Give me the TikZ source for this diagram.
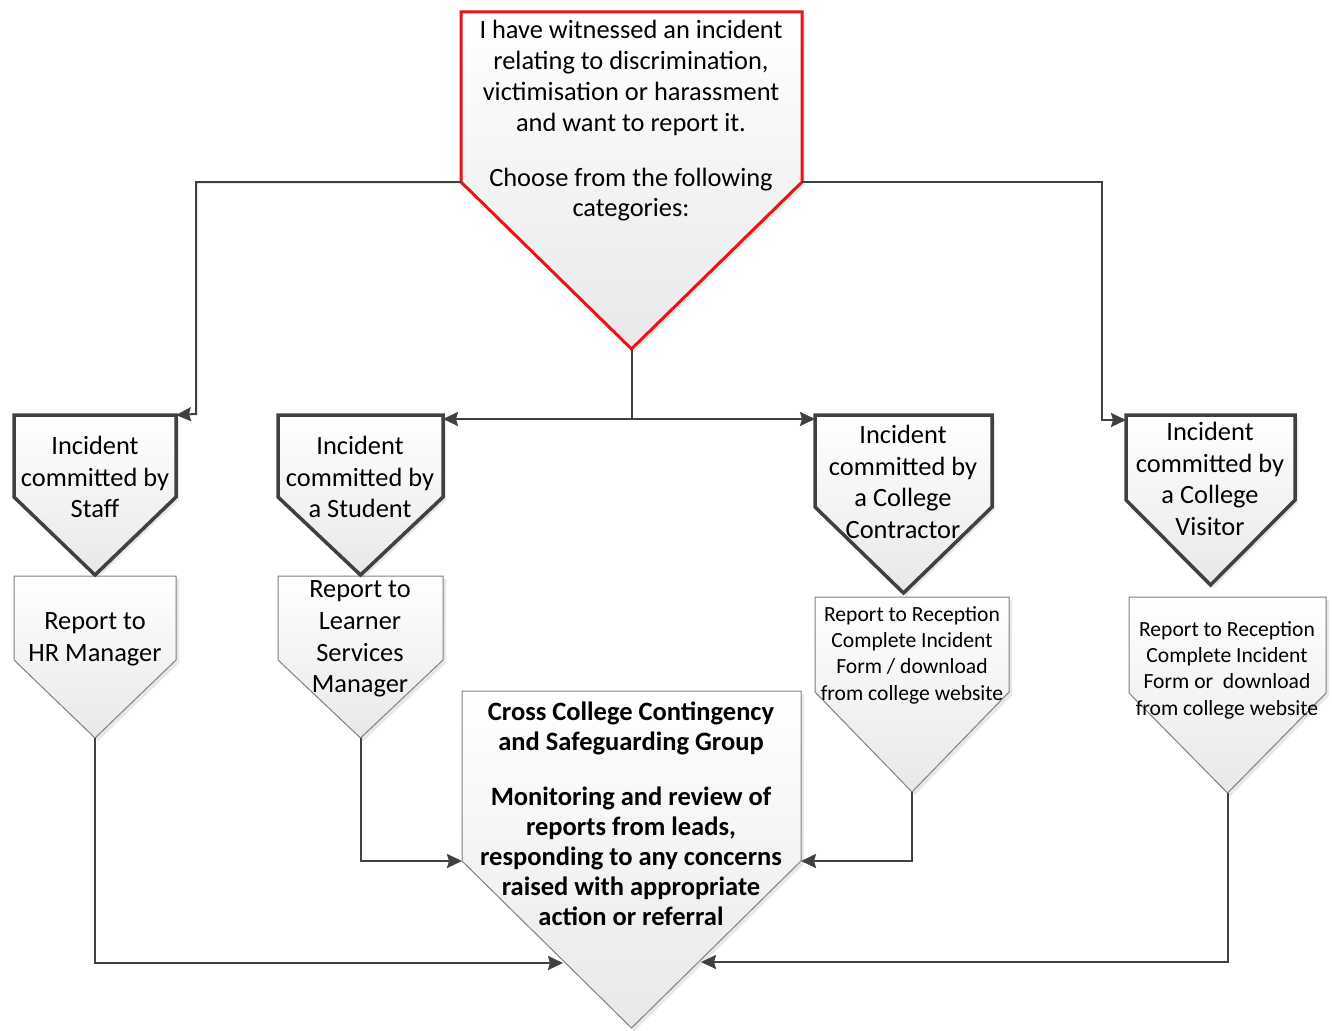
\documentclass[tikz,border=0pt]{standalone}
\usepackage{fontspec}
\setmainfont{Carlito}
\usetikzlibrary{arrows.meta,shadows}
\definecolor{linegray}{HTML}{404040}
\definecolor{redline}{HTML}{E8141B}
\definecolor{thingray}{HTML}{808080}
\tikzset{
 shapefill/.style={top color=white,bottom color=black!9,
   drop shadow={shadow xshift=3pt,shadow yshift=-3pt,opacity=0.18}},
 topshape/.style={shapefill,draw=redline,line width=3pt},
 catshape/.style={shapefill,draw=linegray,line width=3.5pt},
 repshape/.style={shapefill,draw=thingray,line width=1pt},
 conn/.style={draw=linegray,line width=2pt,-{Stealth[length=15pt,width=14pt,inset=2pt]}},
 plainconn/.style={draw=linegray,line width=2pt},
 txt/.style={align=center,inner sep=0pt,text=black},
 bigtxt/.style={txt,font=\fontsize{26.4}{30.8}\selectfont},
 cattxt/.style={txt,font=\fontsize{26.4}{31.7}\selectfont},
 smalltxt/.style={txt,font=\fontsize{21.6}{26.3}\selectfont},
 boldtxt/.style={txt,font=\bfseries\fontsize{26.5}{30.2}\selectfont},
}
% name, style, x left, x right, y top, y shoulder, y apex
\newcommand\pentshape[7]{%
 \path[#2] (#3,#5) coordinate (#1-tl) -- (#4,#5) coordinate (#1-tr)
   -- (#4,#6) coordinate (#1-sr) -- ({(#3+#4)/2},#7) coordinate (#1-apex)
   -- (#3,#6) coordinate (#1-sl) -- cycle;}
\begin{document}
\begin{tikzpicture}[x=1pt,y=-1pt]
\useasboundingbox[fill=white] (0,0) rectangle (1332,1030);
% report shapes (behind)
\pentshape{hr}{repshape}{14}{176}{576}{660}{738}
\pentshape{learner}{repshape}{278}{443}{576}{660}{738}
\pentshape{contrrep}{repshape}{815}{1009}{597}{692}{792}
\pentshape{visitrep}{repshape}{1129}{1326}{597}{693}{793}
\pentshape{central}{repshape}{462}{801}{691}{861}{1028}
% top and category shapes
\pentshape{top}{topshape}{461}{802}{12}{182}{349}
\pentshape{staff}{catshape}{14}{176}{415}{497}{575}
\pentshape{student}{catshape}{278}{443}{415}{497}{575}
\pentshape{contr}{catshape}{815}{992}{415}{507}{593}
\pentshape{visit}{catshape}{1126}{1295}{415}{500}{585}
% texts
\node[bigtxt] (toptext) at (631,121) {I have witnessed an incident\\relating to discrimination,\\victimisation or harassment\\and want to report it.\\[24pt]Choose from the following\\categories:};
\node[cattxt] (stafftext) at (95,477) {Incident\\committed by\\Staff};
\node[cattxt] (studenttext) at (360,477) {Incident\\committed by\\a Student};
\node[cattxt] (contrtext) at (903,482) {Incident\\committed by\\a College\\Contractor};
\node[cattxt] (visittext) at (1210,479) {Incident\\committed by\\a College\\Visitor};
\node[cattxt] (hrtext) at (95,639) {Report to\\HR Manager};
\node[cattxt] (learnertext) at (360,639) {Report to\\Learner\\Services\\Manager};
\node[smalltxt] (contrreptext) at (912,655) {Report to Reception\\Complete Incident\\Form / download\\from college website};
\node[smalltxt] (visitreptext) at (1227,670) {Report to Reception\\Complete Incident\\Form or\ \ download\\from college website};
\node[boldtxt] (centraltext) at (631,814) {Cross College Contingency\\and Safeguarding Group\\[24pt]Monitoring and review of\\reports from leads,\\responding to any concerns\\raised with appropriate\\action or referral};
% connector coordinates
\coordinate (lbendA) at (196,182);
\coordinate (lbendB) at (196,414);
\coordinate (rbendA) at (1102,182);
\coordinate (rbendB) at (1102,420);
\coordinate (mid) at ([yshift=-70pt]top-apex);
\coordinate (cinL) at (563,963);
\coordinate (cinR) at (701,962);
% connectors
\draw[conn] (top-sl) -- (lbendA) -- (lbendB) -- (staff-tr);
\draw[conn] (top-sr) -- (rbendA) -- (rbendB) -- (rbendB -| visit-tl);
\draw[plainconn] (top-apex) -- (mid);
\draw[conn] (mid) -- (mid -| student-tr);
\draw[conn] (mid) -- (mid -| contr-tl);
\draw[conn] (hr-apex) |- (cinL);
\draw[conn] (learner-apex) |- (central-sl);
\draw[conn] (contrrep-apex) |- (central-sr);
\draw[conn] (visitrep-apex) |- (cinR);
\end{tikzpicture}
\end{document}
